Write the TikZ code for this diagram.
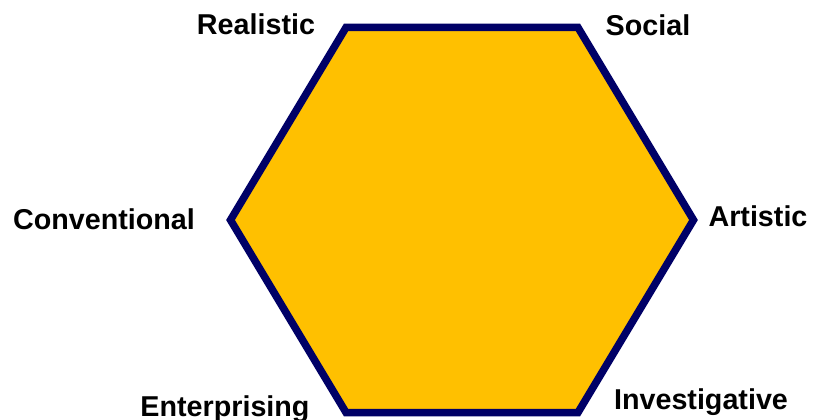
\documentclass[tikz,border=0pt]{standalone}
\usepackage{fontspec}
\setmainfont{Liberation Sans}
\definecolor{hexfill}{HTML}{FFC000}
\definecolor{hexline}{HTML}{000066}
\begin{document}
\begin{tikzpicture}[x=1pt,y=-1pt,
  lbl/.style={font=\fontsize{28.7}{30}\selectfont\bfseries, anchor=base, inner sep=0pt, text=black},
  hexstyle/.style={fill=hexfill, draw=hexline, line width=7.5pt, line join=miter}]
\useasboundingbox (0,0) rectangle (814,420);
\coordinate (tl) at (346,27.5);
\coordinate (tr) at (578,27.5);
\coordinate (r) at (693.5,220);
\coordinate (br) at (578,412.5);
\coordinate (bl) at (346,412.5);
\coordinate (l) at (230.5,220);
\draw[hexstyle] (tl) -- (tr) -- (r) -- (br) -- (bl) -- (l) -- cycle;
\node[lbl] (realistic) at (256,35) {Realistic};
\node[lbl] (social) at (648,35.5) {Social};
\node[lbl] (conventional) at (104,229) {Conventional};
\node[lbl] (artistic) at (758,226) {Artistic};
\node[lbl] (enterprising) at (225,416) {Enterprising};
\node[lbl] (investigative) at (701,409.5) {Investigative};
\end{tikzpicture}
\end{document}
